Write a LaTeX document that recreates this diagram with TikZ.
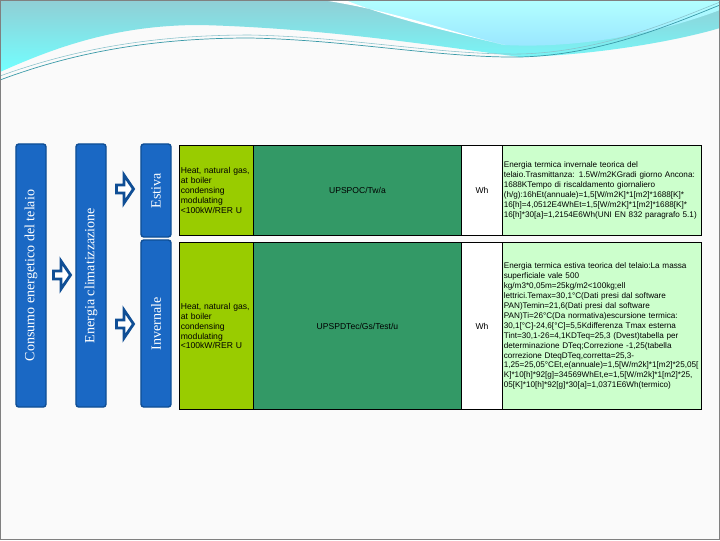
\documentclass[tikz,border=0pt]{standalone}
\usepackage{fontspec}
\setmainfont{Liberation Serif}
\newfontfamily\tabfont{Liberation Sans}

\definecolor{barblue}{HTML}{1A68C4}
\definecolor{bardark}{HTML}{0F4E95}
\definecolor{limecell}{HTML}{99CC00}
\definecolor{tealcell}{HTML}{339966}
\definecolor{mintcell}{HTML}{CCFFCC}
\definecolor{slidebg}{HTML}{FAFAFA}
\definecolor{waveline}{HTML}{3A9AA8}

\tikzset{
  bar/.style={rectangle, rounded corners=2pt, draw=bardark, line width=1pt,
    fill=barblue, text=white, rotate=90, minimum height=0.75cm,
    font=\fontsize{10}{12}\selectfont, inner sep=0pt},
  hollowarrow/.style={draw=bardark, line width=2pt, fill=white, line join=miter},
  cell/.style={rectangle, draw=black, line width=0.6pt, anchor=north west,
    inner xsep=1pt, inner ysep=0pt, font=\tabfont\fontsize{6.1}{7.1}\selectfont},
  notecell/.style={cell, fill=mintcell, align=left, text width=4.975cm-2pt,
    font=\tabfont\fontsize{5.8}{7.1}\selectfont}
}
\newcommand\blockarrow[1]{%
  \draw[hollowarrow, shift={(#1)}] (-8.5,-4) -- (-1,-4) -- (-1,-14) -- (8.5,0)
    -- (-1,14) -- (-1,4) -- (-8.5,4) -- cycle;}

\begin{document}
\begin{tikzpicture}[x=0.025cm, y=-0.025cm]
 \useasboundingbox (0,0) rectangle (720,540);
 % slide background and wave
 \fill[slidebg] (0,0) rectangle (720,540);
 \shade[top color=blue!10!cyan!45!gray!60, bottom color=cyan!55!white]
   (0,0) -- (720,0) -- (720,28) .. controls (680,40) and (600,55) .. (520,57)
   .. controls (430,45) and (320,28) .. (200,25) .. controls (120,25) and (60,45) .. (0,72) -- cycle;
 \shade[top color=cyan!30!white, bottom color=blue!25!cyan!40!white]
   (340,0) -- (720,0) -- (720,10) .. controls (640,40) and (560,48) .. (505,45)
   .. controls (440,30) and (380,12) .. (340,0) -- cycle;
 \fill[white] (322,0) .. controls (400,12) and (460,35) .. (505,45)
   .. controls (450,32) and (390,18) .. (345,0) -- cycle;
 \draw[waveline, line width=0.5pt] (0,80) .. controls (80,50) and (160,38) .. (250,38)
   .. controls (350,40) and (440,58) .. (520,57) .. controls (600,55) and (670,25) .. (720,5);
 \draw[waveline!60, line width=0.4pt] (0,76) .. controls (80,47) and (160,35) .. (250,35)
   .. controls (350,37) and (440,55) .. (520,54) .. controls (600,52) and (670,22) .. (720,2);
 \draw[gray, line width=0.8pt] (0.5,0.5) rectangle (719.5,539.5);

 % left hierarchy
 \node[bar, minimum width=6.575cm] (consumo) at (31,275.5) {Consumo energetico del telaio};
 \node[bar, minimum width=6.575cm] (clima) at (91,275.5) {Energia climatizzazione};
 \node[bar, minimum width=2.325cm] (estiva) at (156,190.5) {Estiva};
 \node[bar, minimum width=4.175cm] (invernale) at (156,323.5) {Invernale};
 \coordinate (arr1) at (62,275);
 \coordinate (arr2) at (125,189);
 \coordinate (arr3) at (125,324);
 \blockarrow{arr1}
 \blockarrow{arr2}
 \blockarrow{arr3}

 % table, row 1
 \node[cell, fill=limecell, minimum height=2.25cm, text width=1.85cm-2pt, align=left]
   (src1) at (179,145) {Heat, natural gas,\\at boiler\\condensing\\modulating\\<100kW/RER U};
 \node[cell, fill=tealcell, minimum height=2.25cm, minimum width=5.2cm]
   (proc1) at (253,145) {UPSPOC/Tw/a};
 \node[cell, fill=white, minimum height=2.25cm, minimum width=1.025cm]
   (unit1) at (461,145) {Wh};
 \node[notecell, minimum height=2.25cm] (note1) at (502,145)
   {Energia termica invernale teorica del\\
    telaio.Trasmittanza: 1.5W/m2KGradi giorno Ancona:\\
    1688KTempo di riscaldamento giornaliero\\
    (h/g):16hEt(annuale)=1,5[W/m2K]*1[m2]*1688[K]*\\
    16[h]=4,0512E4WhEt=1,5[W/m2K]*1[m2]*1688[K]*\\
    16[h]*30[a]=1,2154E6Wh(UNI EN 832 paragrafo 5.1)};

 % table, row 2
 \node[cell, fill=limecell, minimum height=4.175cm, text width=1.85cm-2pt, align=left]
   (src2) at (179,242) {Heat, natural gas,\\at boiler\\condensing\\modulating\\<100kW/RER U};
 \node[cell, fill=tealcell, minimum height=4.175cm, minimum width=5.2cm]
   (proc2) at (253,242) {UPSPDTec/Gs/Test/u};
 \node[cell, fill=white, minimum height=4.175cm, minimum width=1.025cm]
   (unit2) at (461,242) {Wh};
 \node[notecell, minimum height=4.175cm] (note2) at (502,242)
   {Energia termica estiva teorica del telaio:La massa\\
    superficiale vale 500\\
    kg/m3*0,05m=25kg/m2<100kg;ell\\
    lettrici.Temax=30,1°C(Dati presi dal software\\
    PAN)Temin=21,6(Dati presi dal software\\
    PAN)Ti=26°C(Da normativa)escursione termica:\\
    30,1[°C]-24,6[°C]=5,5Kdifferenza Tmax esterna\\
    Tint=30,1-26=4,1KDTeq=25,3 (Dvest)tabella per\\
    determinazione DTeq;Correzione -1,25(tabella\\
    correzione DteqDTeq,corretta=25,3-\\
    1,25=25,05°CEt,e(annuale)=1,5[W/m2k]*1[m2]*25,05[\\
    K]*10[h]*92[g]=34569WhEt,e=1,5[W/m2k]*1[m2]*25,\\
    05[K]*10[h]*92[g]*30[a]=1,0371E6Wh(termico)};
\end{tikzpicture}
\end{document}
